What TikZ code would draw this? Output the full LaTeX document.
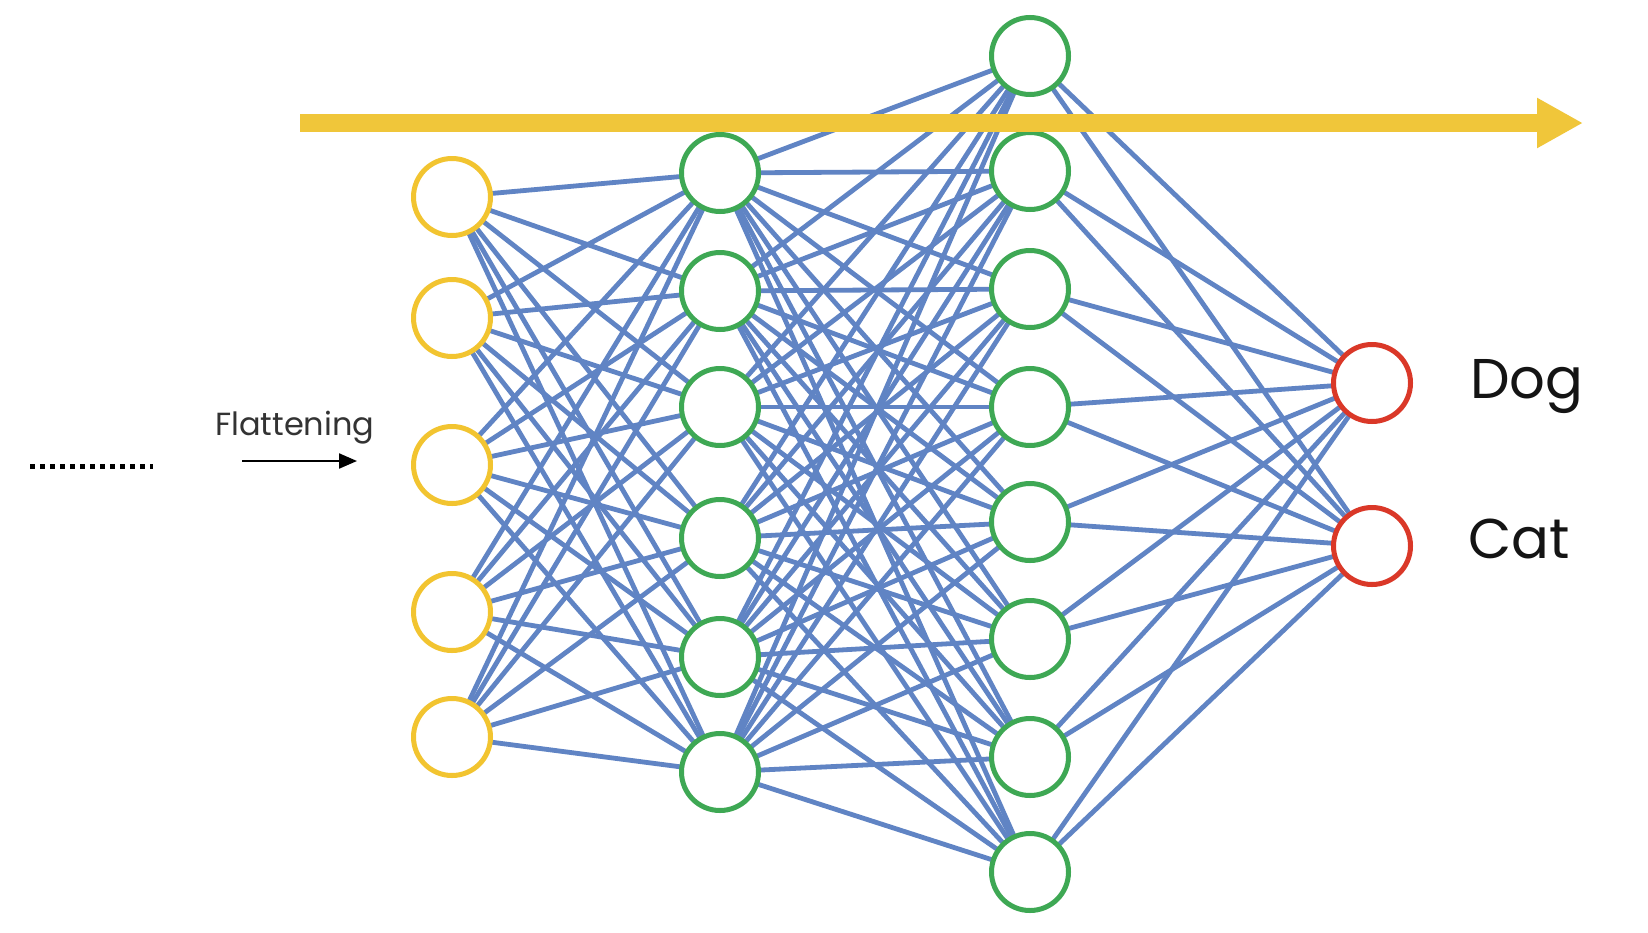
\documentclass[tikz,border=0pt]{standalone}
\usepackage{fontspec}
\setmainfont{Poppins}
\usetikzlibrary{arrows.meta,backgrounds}
\definecolor{nnyellow}{RGB}{242,196,48}
\definecolor{nngreen}{RGB}{62,168,84}
\definecolor{nnred}{RGB}{218,56,40}
\definecolor{nnblue}{RGB}{96,132,196}
\definecolor{nnarrow}{RGB}{240,198,58}
\definecolor{nntext}{RGB}{20,20,20}
\begin{document}
\begin{tikzpicture}[x=1pt,y=-1pt,
  neuron/.style={circle,minimum size=77pt,inner sep=0pt,line width=5pt,fill=white},
  yel/.style={neuron,draw=nnyellow},
  grn/.style={neuron,draw=nngreen},
  rd/.style={neuron,draw=nnred},
  conn/.style={draw=nnblue,line width=4.8pt},
  lbl/.style={anchor=base west,text=nntext,inner sep=0pt}]
\useasboundingbox (0,0) rectangle (1648,932);
% layers
\foreach \y [count=\i] in {197,318,465,612,737}
  \node[yel] (a\i) at (452,\y) {};
\foreach \y [count=\i] in {173,291,407,538,657,772}
  \node[grn] (b\i) at (720,\y) {};
\foreach \y [count=\i] in {56,171,289,407,522,639,757,872}
  \node[grn] (c\i) at (1030,\y) {};
\node[rd] (d1) at (1372,383) {};
\node[rd] (d2) at (1372,546) {};
% connections
\begin{scope}[on background layer]
\fill[white] (0,0) rectangle (1648,932);
\foreach \i in {1,...,5}
  \foreach \j in {1,...,6}
    \draw[conn] (a\i.center) -- (b\j.center);
\foreach \i in {1,...,6}
  \foreach \j in {1,...,8}
    \draw[conn] (b\i.center) -- (c\j.center);
\foreach \i in {1,...,8}
  \foreach \j in {1,2}
    \draw[conn] (c\i.center) -- (d\j.center);
\end{scope}
% labels
\node[lbl,font=\fontsize{56}{60}\selectfont] (dog) at (1470,398) {Dog};
\node[lbl,font=\fontsize{56}{60}\selectfont] (cat) at (1468,558) {Cat};
\node[lbl,font=\fontsize{32}{36}\selectfont,text=black!80] (flat) at (215,435) {Flattening};
% flattening arrow
\coordinate (fs) at (242,461);
\coordinate (fe) at (357,461);
\draw[line width=2.2pt,-{Triangle[length=18pt,width=15pt]}] (fs) -- (fe);
% dotted line
\coordinate (ds) at (30,466);
\coordinate (de) at (153,466);
\draw[line width=5pt,dash pattern=on 5pt off 5pt] (ds) -- (de);
% big yellow arrow
\coordinate (ys) at (300,123);
\coordinate (ye) at (1583,123);
\draw[nnarrow,line width=18pt,-{Triangle[length=46pt,width=47pt]}] (ys) -- (ye);
\end{tikzpicture}
\end{document}
